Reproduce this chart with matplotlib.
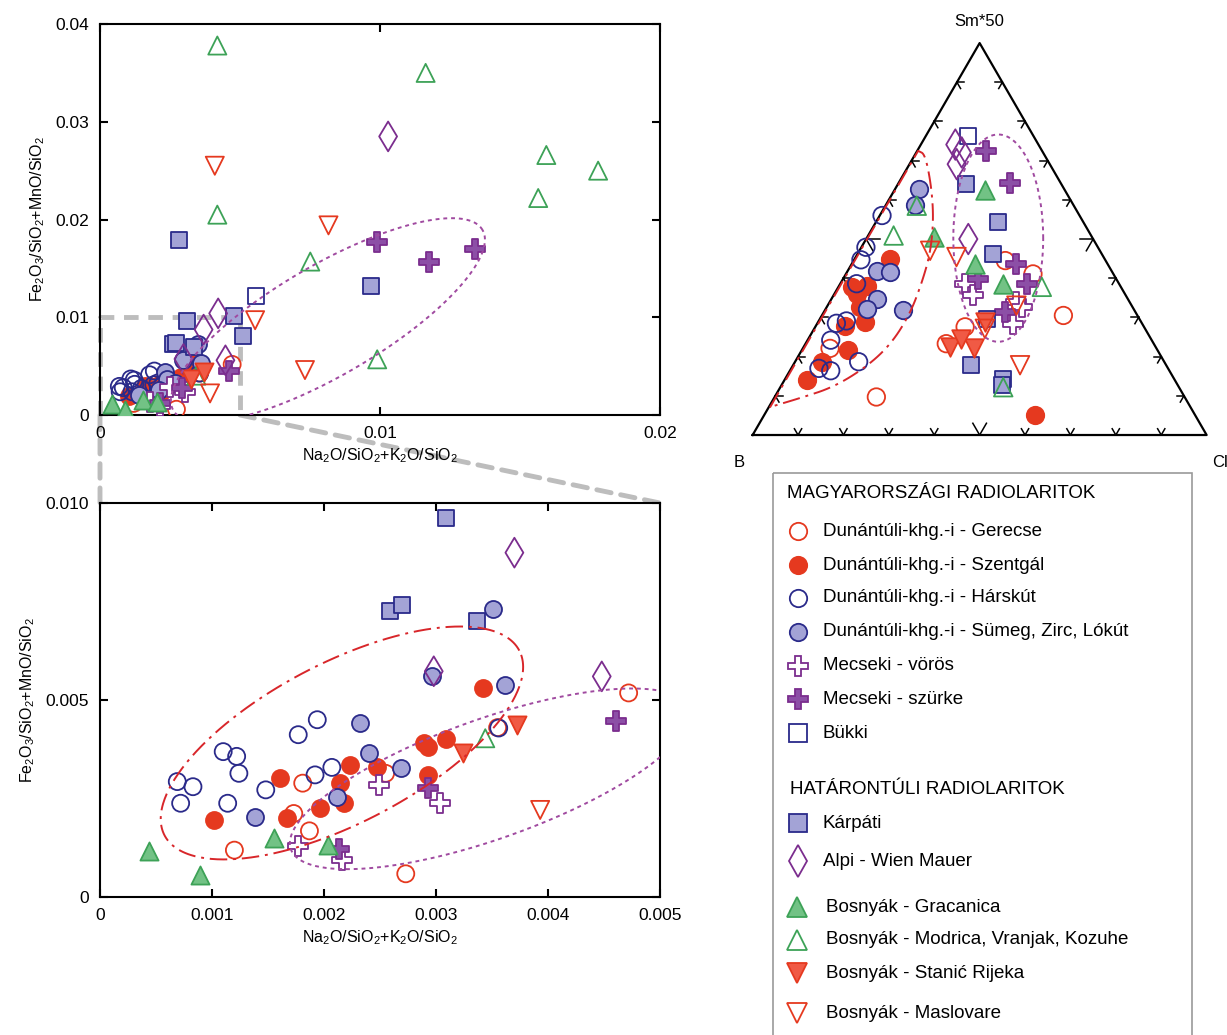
import numpy as np
import matplotlib.pyplot as plt
from matplotlib.patches import ConnectionPatch, Rectangle

plt.rcParams['font.family'] = ['Liberation Sans', 'DejaVu Sans']
plt.rcParams['mathtext.fontset'] = 'custom'
plt.rcParams['mathtext.rm'] = 'Liberation Sans'
plt.rcParams['mathtext.default'] = 'regular'

# ---- scatter data: Na2O/SiO2+K2O/SiO2 (x) and Fe2O3/SiO2+MnO/SiO2 (y), in units of 1e-3
gerecse_x = [4.72, 3.55, 1.81, 1.73, 1.87, 1.20, 2.73, 2.55]
gerecse_y = [5.18, 4.30, 2.89, 2.12, 1.68, 1.19, 0.59, 3.14]
szentgal_x = [1.02, 1.61, 1.67, 1.96, 2.14, 2.18, 2.23, 2.47, 2.89, 2.93, 3.09, 2.93, 3.42]
szentgal_y = [1.95, 3.01, 2.00, 2.25, 2.89, 2.38, 3.34, 3.29, 3.90, 3.82, 4.01, 3.10, 5.31]
harskut_x = [0.69, 0.72, 0.83, 1.10, 1.22, 1.24, 1.14, 1.48, 1.77, 1.94, 1.92, 2.07, 3.56]
harskut_y = [2.93, 2.38, 2.80, 3.69, 3.57, 3.14, 2.38, 2.72, 4.12, 4.50, 3.10, 3.29, 4.29]
sumeg_x = [1.38, 2.32, 2.40, 2.69, 2.96, 3.51, 3.62, 2.12]
sumeg_y = [2.02, 4.41, 3.65, 3.27, 5.62, 7.30, 5.37, 2.55]
voros_x = [1.77, 2.16, 2.49, 3.04]
voros_y = [1.29, 0.95, 2.84, 2.39]
szurke_x = [4.61, 2.93, 2.13, 9.90, 11.76, 13.40]
szurke_y = [4.46, 2.76, 1.23, 17.7, 15.7, 17.0]
bukki_x = [5.57]
bukki_y = [12.2]
karpati_x = [3.09, 2.59, 2.70, 3.37, 2.83, 9.67, 4.78, 5.10]
karpati_y = [9.61, 7.26, 7.40, 7.00, 17.9, 13.2, 10.1, 8.1]
alpi_x = [3.70, 4.48, 2.98, 10.29, 4.22]
alpi_y = [8.74, 5.60, 5.73, 28.5, 10.4]
gracanica_x = [0.44, 0.89, 1.55, 2.04]
gracanica_y = [1.17, 0.55, 1.49, 1.32]
modrica_x = [3.44, 4.19, 11.63, 15.94, 17.79, 15.65, 4.19, 7.51, 9.90]
modrica_y = [4.03, 37.8, 35.0, 26.6, 25.0, 22.2, 20.5, 15.7, 5.7]
stanic_x = [3.24, 3.72]
stanic_y = [3.65, 4.37]
maslovare_x = [3.93, 4.10, 8.16, 7.32, 5.54]
maslovare_y = [2.21, 25.5, 19.4, 4.6, 9.7]

# ---- ternary data: fractions of Sm*50 and Cl (B is the remainder)
gerecse_sm = [0.097, 0.305, 0.276, 0.233, 0.411, 0.445, 0.221]
gerecse_cl = [0.224, 0.532, 0.330, 0.310, 0.412, 0.334, 0.060]
szentgal_sm = [0.051, 0.140, 0.187, 0.216, 0.279, 0.289, 0.327, 0.378, 0.381, 0.360, 0.449]
szentgal_cl = [0.597, 0.049, 0.059, 0.103, 0.064, 0.103, 0.073, 0.030, 0.061, 0.049, 0.078]
harskut_sm = [0.560, 0.479, 0.447, 0.386, 0.285, 0.291, 0.242, 0.170, 0.164, 0.187]
harskut_cl = [0.005, 0.010, 0.015, 0.036, 0.042, 0.061, 0.051, 0.061, 0.090, 0.140]
sumeg_sm = [0.627, 0.588, 0.419, 0.416, 0.348, 0.322, 0.318]
sumeg_cl = [0.052, 0.063, 0.064, 0.094, 0.099, 0.090, 0.173]
voros_sm = [0.386, 0.356, 0.339, 0.284, 0.327]
voros_cl = [0.275, 0.308, 0.411, 0.432, 0.430]
szurke_sm = [0.725, 0.644, 0.436, 0.386, 0.314, 0.398]
szurke_cl = [0.151, 0.245, 0.363, 0.411, 0.399, 0.298]
bukki_sm = [0.763]
bukki_cl = [0.093]
karpati_sm = [0.640, 0.543, 0.462, 0.297, 0.178, 0.144, 0.127]
karpati_cl = [0.151, 0.270, 0.299, 0.367, 0.393, 0.480, 0.485]
alpi_sm = [0.741, 0.721, 0.691, 0.500]
alpi_cl = [0.076, 0.100, 0.104, 0.225]
gracanica_sm = [0.624, 0.505, 0.436, 0.386]
gracanica_cl = [0.200, 0.146, 0.272, 0.359]
modrica_sm = [0.585, 0.509, 0.378, 0.122]
modrica_cl = [0.069, 0.056, 0.448, 0.491]
stanic_sm = [0.225, 0.221, 0.246, 0.289]
stanic_cl = [0.322, 0.376, 0.337, 0.367]
maslovare_sm = [0.178, 0.470, 0.454, 0.330, 0.271]
maslovare_cl = [0.500, 0.156, 0.222, 0.416, 0.376]

# red field in the ternary plot (Sm*50, Cl)
field_sm = [0.070, 0.725, 0.716, 0.632, 0.547, 0.462, 0.386, 0.309, 0.233, 0.174, 0.122, 0.094, 0.074]
field_cl = [0.003, 0.002, 0.022, 0.078, 0.125, 0.160, 0.179, 0.192, 0.189, 0.164, 0.117, 0.057, 0.009]

RED = '#e5391f'
BLUE = '#2a2a8a'
LAV = '#a3a3d6'
PURP = '#7b2d8e'
PURP_F = '#8c4fa6'
GREEN = '#3da257'
GREEN_F = '#72c285'

groups = [
    ('Dunántúli-khg.-i - Gerecse', 'o', 'none', RED, gerecse_x, gerecse_y, gerecse_sm, gerecse_cl),
    ('Dunántúli-khg.-i - Szentgál', 'o', RED, RED, szentgal_x, szentgal_y, szentgal_sm, szentgal_cl),
    ('Dunántúli-khg.-i - Hárskút', 'o', 'none', BLUE, harskut_x, harskut_y, harskut_sm, harskut_cl),
    ('Dunántúli-khg.-i - Sümeg, Zirc, Lókút', 'o', LAV, BLUE, sumeg_x, sumeg_y, sumeg_sm, sumeg_cl),
    ('Mecseki - vörös', 'P', 'white', PURP, voros_x, voros_y, voros_sm, voros_cl),
    ('Mecseki - szürke', 'P', PURP_F, PURP, szurke_x, szurke_y, szurke_sm, szurke_cl),
    ('Bükki', 's', 'white', BLUE, bukki_x, bukki_y, bukki_sm, bukki_cl),
    ('Kárpáti', 's', LAV, BLUE, karpati_x, karpati_y, karpati_sm, karpati_cl),
    ('Alpi - Wien Mauer', 'd', 'none', PURP, alpi_x, alpi_y, alpi_sm, alpi_cl),
    ('Bosnyák - Gracanica', '^', GREEN_F, GREEN, gracanica_x, gracanica_y, gracanica_sm, gracanica_cl),
    ('Bosnyák - Modrica, Vranjak, Kozuhe', '^', 'none', GREEN, modrica_x, modrica_y, modrica_sm, modrica_cl),
    ('Bosnyák - Stanić Rijeka', 'v', '#f05a45', RED, stanic_x, stanic_y, stanic_sm, stanic_cl),
    ('Bosnyák - Maslovare', 'v', 'none', RED, maslovare_x, maslovare_y, maslovare_sm, maslovare_cl),
]
sizes = {'o': 150, 'P': 190, 's': 140, 'd': 230, '^': 170, 'v': 170}

fig = plt.figure(figsize=(12.27, 10.35), dpi=100)

ax_top = fig.add_axes([0.0815, 0.599, 0.4564, 0.3778])
ax_bot = fig.add_axes([0.0815, 0.1333, 0.4564, 0.3807])
ax_tri = fig.add_axes([0.6134, 0.5797, 0.3700, 0.3787])


def ellipse(ax, cx, cy, a, b, angle, **kw):
    # centre in data units, semi-axes in pixels, angle on screen
    t = np.linspace(0, 2 * np.pi, 400)
    th = np.radians(angle)
    dx = a * np.cos(t) * np.cos(th) - b * np.sin(t) * np.sin(th)
    dy = a * np.cos(t) * np.sin(th) + b * np.sin(t) * np.cos(th)
    x0, x1 = ax.get_xlim()
    y0, y1 = ax.get_ylim()
    bb = ax.get_window_extent()
    ax.plot(cx + dx * (x1 - x0) / bb.width, cy + dy * (y1 - y0) / bb.height, **kw)


red_ls = dict(color='#d8262a', lw=1.4, ls=(0, (9, 3, 1.5, 3)), zorder=4)
purp_ls = dict(color='#a04aa0', lw=1.4, ls=(0, (2, 2)), zorder=4)

for ax, xmax, ymax in [(ax_top, 0.02, 0.04), (ax_bot, 0.005, 0.010)]:
    ax.set_xlim(0, xmax)
    ax.set_ylim(0, ymax)
    for lab, m, fc, ec, x, y, sm, cl in groups:
        x = np.array(x) * 1e-3
        y = np.array(y) * 1e-3
        keep = (x <= xmax) & (y <= ymax)
        ax.scatter(x[keep], y[keep], s=sizes[m], marker=m,
                   facecolors=fc, edgecolors=ec, linewidths=1.3, zorder=3)
    ax.tick_params(direction='in', length=6, width=1.5, top=True, right=True,
                   labelsize=12.5, pad=8)
    for sp in ax.spines.values():
        sp.set_linewidth(1.5)
    ax.set_xlabel('Na$_2$O/SiO$_2$+K$_2$O/SiO$_2$', fontsize=11.5, labelpad=4)
    ax.set_ylabel('Fe$_2$O$_3$/SiO$_2$+MnO/SiO$_2$', fontsize=11.5, labelpad=6)

ax_top.set_xticks([0, 0.01, 0.02], ['0', '0.01', '0.02'])
ax_top.set_yticks([0, 0.01, 0.02, 0.03, 0.04], ['0', '0.01', '0.02', '0.03', '0.04'])
ax_bot.set_xticks([0, 0.001, 0.002, 0.003, 0.004, 0.005],
                  ['0', '0.001', '0.002', '0.003', '0.004', '0.005'])
ax_bot.set_yticks([0, 0.005, 0.010], ['0', '0.005', '0.010'])

ellipse(ax_top, 0.00814, 0.0097, 179, 55, 30.3, **purp_ls)
ellipse(ax_bot, 0.00216, 0.00391, 200, 80, 27.5, **red_ls)
ellipse(ax_bot, 0.00348, 0.00300, 211, 60, 19.5, **purp_ls)

# zoom box and connectors
ax_top.plot([0, 0, 0.005, 0.005], [0, 0.01, 0.01, 0], color='#bdbdbd', lw=3.5,
            ls=(0, (3, 2)), zorder=2, clip_on=False)
for xa in [0, 0.005]:
    con = ConnectionPatch(xyA=(xa, 0), coordsA=ax_top.transData,
                          xyB=(xa, 0.010), coordsB=ax_bot.transData,
                          color='#bdbdbd', lw=3.5, ls=(0, (3, 2)), zorder=0)
    fig.add_artist(con)

# ternary diagram
s3 = np.sqrt(3) / 2


def tern(sm, cl):
    sm = np.asarray(sm)
    cl = np.asarray(cl)
    return cl + sm / 2, sm * s3


ax_tri.set_xlim(0, 1)
ax_tri.set_ylim(0, s3)
ax_tri.axis('off')
ax_tri.plot([0, 1, 0.5, 0], [0, 0, s3, 0], color='black', lw=1.6, clip_on=False, zorder=2)

for k in range(1, 10):
    f = k / 10
    tl = 0.03 if k == 5 else 0.016
    edges = [((f, 0), [(0.5, s3), (-0.5, s3)]),
             ((f / 2, f * s3), [(1, 0), (0.5, -s3)]),
             ((1 - f / 2, f * s3), [(-1, 0), (-0.5, -s3)])]
    for p, dirs in edges:
        for d in dirs:
            ax_tri.plot([p[0], p[0] + tl * d[0]], [p[1], p[1] + tl * d[1]],
                        color='black', lw=1.1)

for lab, m, fc, ec, x, y, sm, cl in groups:
    tx, ty = tern(sm, cl)
    ax_tri.scatter(tx, ty, s=sizes[m] * 1.05, marker=m, facecolors=fc, edgecolors=ec,
                   linewidths=1.3, zorder=3, clip_on=False)

# red field outline (smoothed)
fx, fy = tern(field_sm, field_cl)
pts = np.column_stack([fx, fy])
curve = pts[1:]
for _ in range(3):
    q = 0.75 * curve[:-1] + 0.25 * curve[1:]
    r = 0.25 * curve[:-1] + 0.75 * curve[1:]
    curve = np.vstack([curve[:1], np.column_stack([q, r]).reshape(-1, 2), curve[-1:]])
outline = np.vstack([pts[:1], curve, pts[:1]])
ax_tri.plot(outline[:, 0], outline[:, 1], **red_ls)

t = np.linspace(0, 2 * np.pi, 300)
ax_tri.plot(0.541 + 0.099 * np.cos(t), 0.435 + 0.229 * np.sin(t), **purp_ls)

ax_tri.text(0.5, s3 + 0.03, 'Sm*50', ha='center', va='bottom', fontsize=12)
ax_tri.text(-0.03, -0.045, 'B', ha='center', va='top', fontsize=12)
ax_tri.text(1.03, -0.045, 'Cl', ha='center', va='top', fontsize=12)

# legend panel
ax_leg = fig.add_axes([0, 0, 1, 1], zorder=-1)
ax_leg.set_xlim(0, 1227)
ax_leg.set_ylim(1035, 0)
ax_leg.axis('off')
ax_leg.add_patch(Rectangle((773, 473), 419, 600, fill=False, ec='#9a9a9a', lw=1.2))

ax_leg.text(787, 494, 'MAGYARORSZÁGI RADIOLARITOK', va='center', fontsize=13.5)
ax_leg.text(790, 789, 'HATÁRONTÚLI RADIOLARITOK', va='center', fontsize=13.5)
leg_y = [531, 565, 598, 632, 666, 699, 733, 823, 861, 907, 940, 973, 1013]
leg_ms = {'o': 12.5, 'P': 14, 's': 12.5, 'd': 16, '^': 14, 'v': 14}
for i, (lab, m, fc, ec, x, y, sm, cl) in enumerate(groups):
    mx, tx = (797, 826) if i >= 9 else (798, 823)
    ax_leg.plot([mx], [leg_y[i]], marker=m, ms=leg_ms[m], mfc=fc, mec=ec, mew=1.3, ls='none')
    ax_leg.text(tx, leg_y[i], lab, va='center', fontsize=13.5)

fig.savefig('out.png', dpi=100)
